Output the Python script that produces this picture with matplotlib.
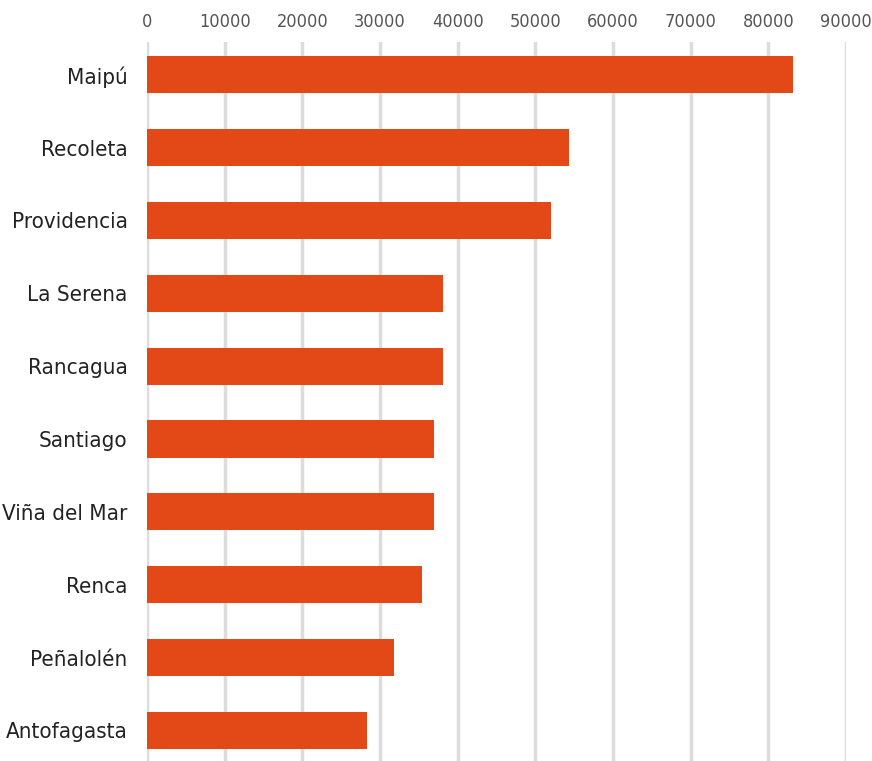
import matplotlib
matplotlib.use("Agg")
import matplotlib.pyplot as plt
import numpy as np

# data
comunas = ["Maipú", "Recoleta", "Providencia", "La Serena", "Rancagua",
           "Santiago", "Viña del Mar", "Renca", "Peñalolén", "Antofagasta"]
valores = [83200, 54300, 52000, 38100, 38100, 36900, 36900, 35400, 31800, 28300]
ticks = list(range(0, 90001, 10000))

bar_color = "#E24916"
grid_color = "#DCDCDC"
font = ["DejaVu Sans"]

fig = plt.figure(figsize=(8.72, 7.61), dpi=100)
ax = fig.add_axes([147 / 872, 0, (846 - 147) / 872, (761 - 42) / 761])

y = np.arange(len(comunas))
ax.barh(y, valores, height=0.51, color=bar_color, zorder=3)

ax.set_xlim(0, 90000)
ax.set_ylim(9.42, -0.45)
ax.set_xticks(ticks)
ax.set_xticklabels([str(t) for t in ticks], family=font, fontsize=13,
                   fontstretch="condensed", fontweight="light", color="#555555")
ax.xaxis.tick_top()
ax.set_yticks(y)
ax.set_yticklabels(comunas, family=font, fontsize=16, fontstretch="condensed",
                   fontweight="light", color="#222222")
ax.tick_params(axis="both", length=0)
ax.tick_params(axis="x", pad=8)
ax.tick_params(axis="y", pad=14)

ax.grid(axis="x", color=grid_color, linewidth=2.5, zorder=0)
for s in ax.spines.values():
    s.set_visible(False)

fig.savefig("out.png", dpi=100)
